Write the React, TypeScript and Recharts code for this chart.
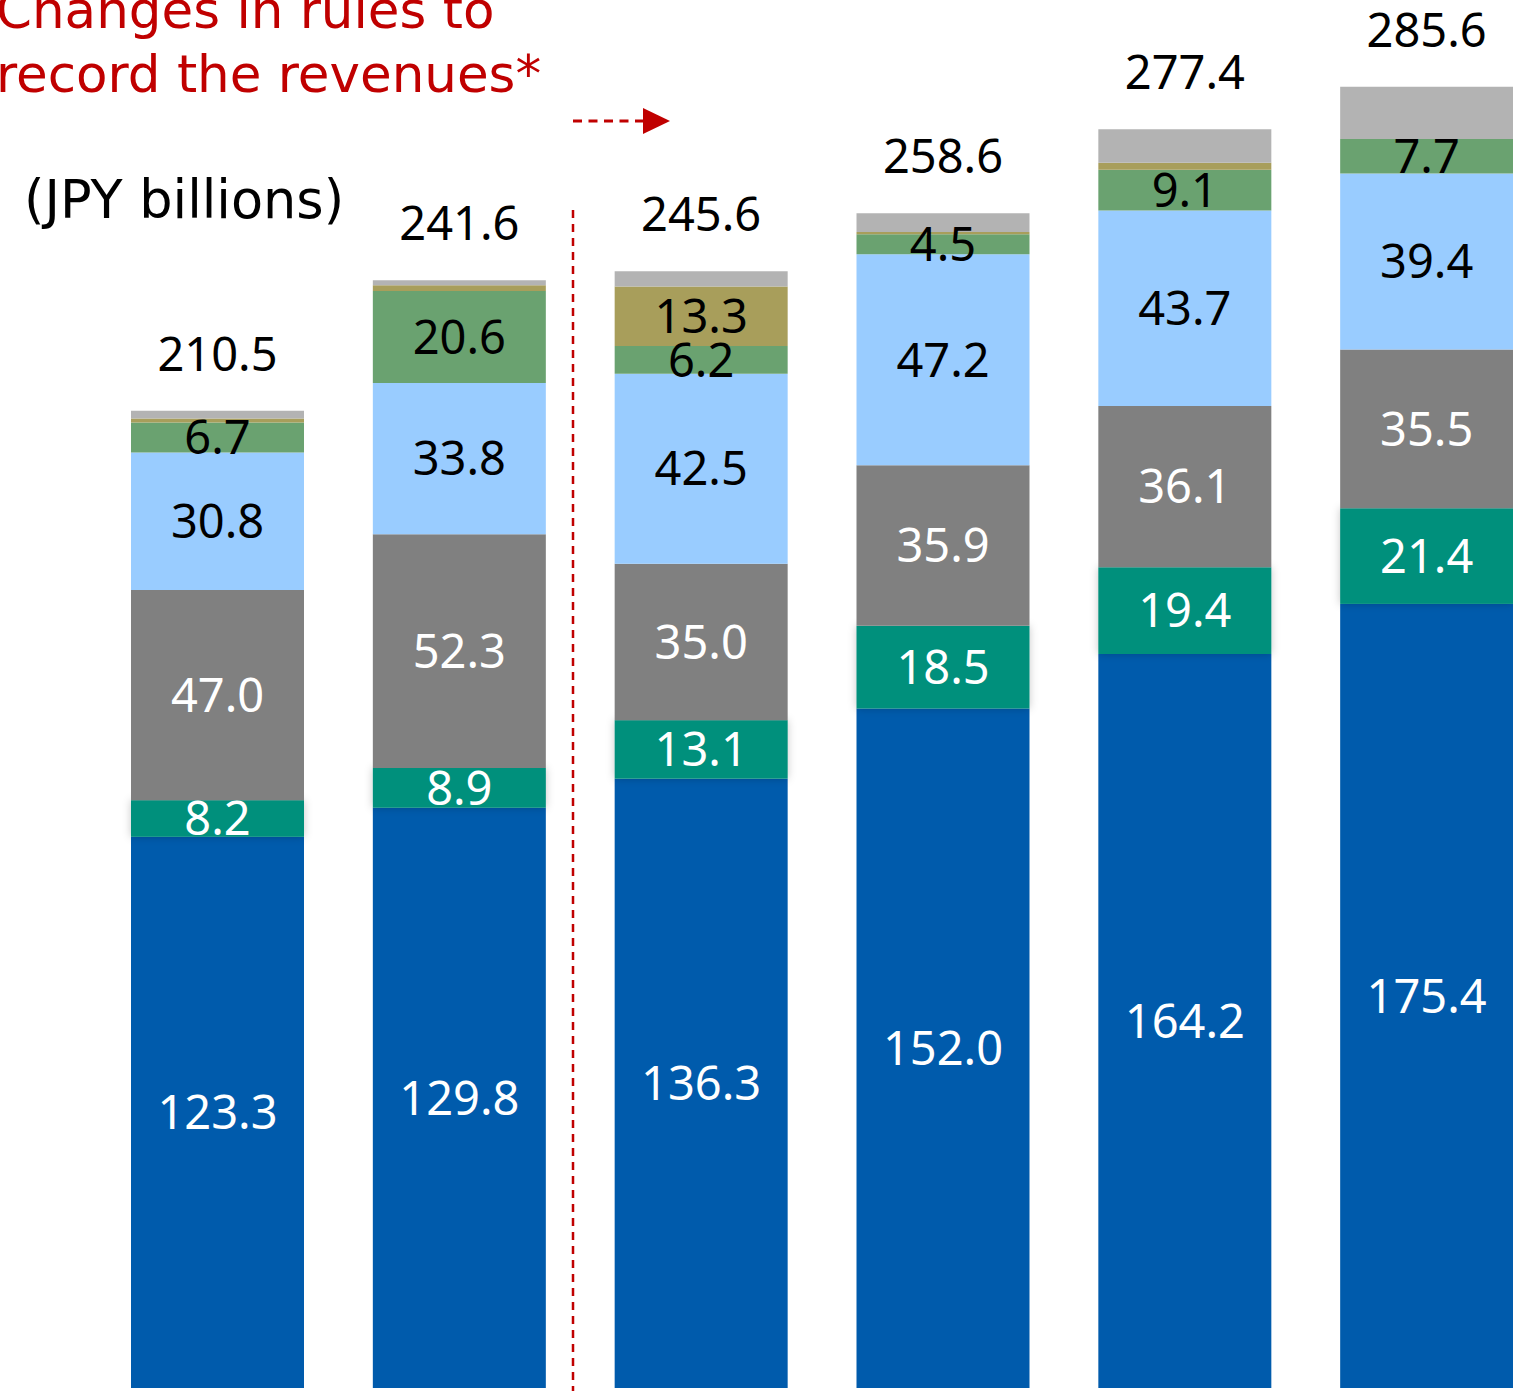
import React from 'react';
import { BarChart, Bar, XAxis, YAxis, LabelList } from 'recharts';

// ---- data ----
const categories = ['Y1', 'Y2', 'Y3', 'Y4', 'Y5', 'Y6'];
const coreValues = [123.3, 129.8, 136.3, 152.0, 164.2, 175.4];
const tealValues = [8.2, 8.9, 13.1, 18.5, 19.4, 21.4];
const grayValues = [47.0, 52.3, 35.0, 35.9, 36.1, 35.5];
const lightBlueValues = [30.8, 33.8, 42.5, 47.2, 43.7, 39.4];
const greenValues = [6.7, 20.6, 6.2, 4.5, 9.1, 7.7];
const oliveValues = [0.9, 1.3, 13.3, 0.5, 1.6, 0];
const otherValues = [1.7, 1.1, 3.4, 4.2, 7.5, 11.7];
const totals = [210.5, 241.6, 245.6, 258.6, 277.4, 285.6];

const titleLines = ['Changes in rules to', 'record the revenues*'];
const unitLabel = '(JPY billions)';

const data = categories.map((c, i) => ({
  name: c,
  core: coreValues[i],
  teal: tealValues[i],
  gray: grayValues[i],
  lightBlue: lightBlueValues[i],
  green: greenValues[i],
  olive: oliveValues[i],
  other: otherValues[i],
  total: totals[i],
}));

const series = [
  { key: 'core', fill: '#005BAC', text: '#FFFFFF', showLabel: true },
  { key: 'teal', fill: '#00907C', text: '#FFFFFF', showLabel: true, shadow: true },
  { key: 'gray', fill: '#808080', text: '#FFFFFF', showLabel: true },
  { key: 'lightBlue', fill: '#99CCFF', text: '#000000', showLabel: true },
  { key: 'green', fill: '#6AA270', text: '#000000', showLabel: true },
  { key: 'olive', fill: '#A89E5B', text: '#000000', showLabel: true },
  { key: 'other', fill: '#B3B3B3', text: '#000000', showLabel: false },
];

const NUM_FONT = "'Noto Sans', sans-serif";
const NUM_SIZE = 47;

const makeSegLabel = (color: string) => (props: any) => {
  const { x, y, width, height, value } = props;
  if (value == null || Number(value) < 4) return null;
  const cx = Number(x) + Number(width) / 2;
  const cy = Number(y) + Number(height) / 2;
  return (
    <text
      x={cx}
      y={cy + NUM_SIZE * 0.357}
      textAnchor="middle"
      fill={color}
      fontFamily={NUM_FONT}
      fontSize={NUM_SIZE}
    >
      {Number(value).toFixed(1)}
    </text>
  );
};

const renderTotal = (props: any) => {
  const { x, y, width, value } = props;
  const cx = Number(x) + Number(width) / 2;
  return (
    <text
      x={cx}
      y={Number(y) - 40}
      textAnchor="middle"
      fill="#000000"
      fontFamily={NUM_FONT}
      fontSize={NUM_SIZE}
    >
      {Number(value).toFixed(1)}
    </text>
  );
};

const shadowShape = (props: any) => {
  const { x, y, width, height, fill } = props;
  return (
    <rect x={x} y={y} width={width} height={height} fill={fill} filter="url(#tealShadow)" />
  );
};

export default function App() {
  return (
    <div
      style={{
        position: 'absolute',
        left: 0,
        top: 0,
        width: 1513,
        height: 1391,
        overflow: 'hidden',
        background: '#FFFFFF',
      }}
    >
      <svg width={0} height={0} style={{ position: 'absolute' }}>
        <defs>
          <filter id="tealShadow" x="-10%" y="-60%" width="120%" height="220%">
            <feDropShadow dx="0" dy="0" stdDeviation="4" floodColor="#000000" floodOpacity="0.22" />
          </filter>
        </defs>
      </svg>
      <BarChart
        width={1560}
        height={1391}
        data={data}
        margin={{ top: 0, right: 12, bottom: 3, left: 97 }}
        barSize={173}
      >
        <XAxis dataKey="name" hide />
        <YAxis hide domain={[0, 310.5]} allowDataOverflow />
        {series.map((s) => (
          <Bar
            key={s.key}
            dataKey={s.key}
            stackId="a"
            fill={s.fill}
            isAnimationActive={false}
            shape={s.shadow ? shadowShape : undefined}
          >
            {s.showLabel && <LabelList dataKey={s.key} content={makeSegLabel(s.text)} />}
            {s.key === 'other' && <LabelList dataKey="total" content={renderTotal} />}
          </Bar>
        ))}
      </BarChart>
      <svg
        width={1513}
        height={1391}
        style={{ position: 'absolute', left: 0, top: 0, pointerEvents: 'none' }}
      >
        <text x={-4} y={28} fill="#C00000" fontFamily="'DejaVu Sans', sans-serif" fontSize={51.5}>
          {titleLines[0]}
        </text>
        <text x={-4} y={92} fill="#C00000" fontFamily="'DejaVu Sans', sans-serif" fontSize={51.5}>
          {titleLines[1]}
        </text>
        <text x={24} y={218} fill="#000000" fontFamily="'DejaVu Sans', sans-serif" fontSize={52.5}>
          {unitLabel}
        </text>
        <line x1={573} y1={210} x2={573} y2={1391} stroke="#C00000" strokeWidth={2.5} strokeDasharray="8 6" />
        <line x1={573} y1={121} x2={644} y2={121} stroke="#C00000" strokeWidth={3} strokeDasharray="9 6.5" />
        <polygon points="643,108 670,121 643,134" fill="#C00000" />
      </svg>
    </div>
  );
}
